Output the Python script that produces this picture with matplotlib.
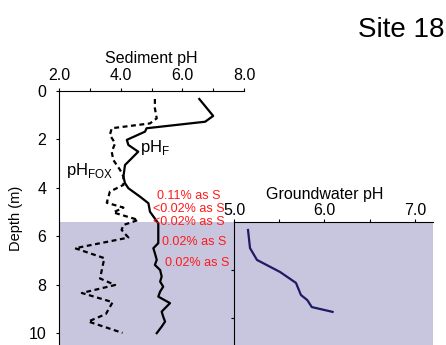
import matplotlib
matplotlib.use("Agg")
import matplotlib.pyplot as plt

plt.rcParams["font.family"] = ["Liberation Sans", "DejaVu Sans"]
plt.rcParams["mathtext.fontset"] = "custom"
plt.rcParams["mathtext.rm"] = "Liberation Sans"

# sediment pH profiles (depth in m)
depth_f = [0.33, 1.03, 1.27, 1.54, 1.68, 2.02, 2.23, 2.51, 3.06, 3.54, 3.81, 4.02,
           4.37, 4.64, 4.99, 5.47, 6.29, 6.50, 6.75, 6.98, 7.19, 7.40, 7.67, 7.88,
           8.09, 8.29, 8.50, 8.77, 9.12, 9.33, 9.53, 9.74, 10.01]
ph_f = [6.55, 7.00, 6.74, 4.84, 4.79, 4.20, 4.25, 4.57, 4.14, 4.09, 4.14, 4.25,
        4.63, 4.90, 4.95, 5.22, 5.22, 5.06, 5.12, 5.17, 5.11, 5.28, 5.33, 5.28,
        5.38, 5.28, 5.22, 5.60, 5.33, 5.38, 5.44, 5.33, 5.17]

depth_fox = [0.33, 0.72, 1.13, 1.34, 1.54, 1.82, 2.16, 2.51, 2.85, 3.26, 3.54, 3.88,
             4.16, 4.62, 4.82, 5.02, 5.33, 5.54, 5.74, 6.06, 6.50, 6.91, 7.75, 8.02,
             8.35, 8.73, 9.22, 9.53, 10.00]
ph_fox = [5.11, 5.11, 5.17, 4.95, 3.71, 3.65, 3.82, 3.71, 3.76, 3.98, 4.09, 4.09,
          3.65, 3.55, 4.09, 3.76, 4.57, 4.09, 4.03, 4.25, 2.52, 3.47, 3.33, 3.82,
          2.74, 3.74, 3.52, 2.95, 4.06]

# groundwater pH
depth_gw = [5.74, 6.49, 6.98, 7.48, 7.93, 8.43, 8.64, 8.93, 9.13]
ph_gw = [5.155, 5.177, 5.254, 5.51, 5.685, 5.74, 5.81, 5.86, 6.09]

# sulfur annotations
s_labels = ["0.11% as S", "<0.02% as S", "<0.02% as S", "0.02% as S", "0.02% as S"]
s_x = [5.18, 5.05, 5.05, 5.34, 5.44]
s_depth = [4.34, 4.88, 5.41, 6.24, 7.11]

water_table = 5.41
bottom = 10.5
shade = "#c8c6de"

fig = plt.figure(figsize=(4.46, 3.45), dpi=100)

ax = fig.add_axes([59 / 446, 0, 185 / 446, 254 / 345])
ax.patch.set_alpha(0)
ax.axhspan(water_table, bottom, color=shade, lw=0, zorder=0)
ax.plot(ph_fox, depth_fox, color="black", lw=1.6, dashes=(2.2, 1.6))
ax.plot(ph_f, depth_f, color="black", lw=1.6)

ax.set_xlim(2.0, 8.0)
ax.set_ylim(bottom, 0)
ax.xaxis.tick_top()
ax.xaxis.set_label_position("top")
ax.set_xticks([2, 4, 6, 8])
ax.set_xticklabels(["2.0", "4.0", "6.0", "8.0"])
ax.set_xticks([3, 5, 7], minor=True)
ax.set_yticks([0, 2, 4, 6, 8, 10])
ax.tick_params(axis="x", which="both", direction="out", length=2, width=0.8, pad=4, labelsize=11.5)
ax.tick_params(axis="y", direction="out", length=2, width=0.8, pad=7, labelsize=11.5)
ax.set_xlabel("Sediment pH", fontsize=11.5, labelpad=3)
ax.set_ylabel("Depth (m)", fontsize=10.5, labelpad=4)
for side in ["right", "bottom"]:
    ax.spines[side].set_visible(False)
for side in ["left", "top"]:
    ax.spines[side].set_linewidth(0.8)

ax.text(2.23, 3.47, r"pH$_{\mathregular{FOX}}$", fontsize=12)
ax.text(4.63, 2.52, r"pH$_{\mathregular{F}}$", fontsize=12)
for lab, x, d in zip(s_labels, s_x, s_depth):
    ax.text(x, d, lab, color="#ff1a1a", fontsize=9, va="center", ha="left")

# groundwater inset
ax2 = fig.add_axes([234 / 446, 0, 199 / 446, 123 / 345])
ax2.set_facecolor(shade)
ax2.plot(ph_gw, depth_gw, color="#1d1b63", lw=1.6)
ax2.set_xlim(5.0, 7.2)
ax2.set_ylim(bottom, water_table)
ax2.xaxis.tick_top()
ax2.xaxis.set_label_position("top")
ax2.set_xticks([5, 6, 7])
ax2.set_xticklabels(["5.0", "6.0", "7.0"])
ax2.set_xticks([5.5, 6.5], minor=True)
ax2.set_yticks([7.39, 9.37])
ax2.set_yticklabels([])
ax2.tick_params(axis="x", which="both", direction="out", length=2, width=0.8, pad=1, labelsize=11.5)
ax2.tick_params(axis="y", direction="out", length=2, width=0.8)
ax2.set_xlabel("Groundwater pH", fontsize=11.5)
ax2.xaxis.set_label_coords(1.0 / 2.2, 146 / 123)
ax2.xaxis.label.set_va("baseline")
for side in ["right", "bottom"]:
    ax2.spines[side].set_visible(False)
for side in ["left", "top"]:
    ax2.spines[side].set_linewidth(0.8)

fig.text(444 / 446, 1 - 37 / 345, "Site 18", fontsize=20, ha="right", va="baseline")

fig.savefig("out.png", dpi=100)
